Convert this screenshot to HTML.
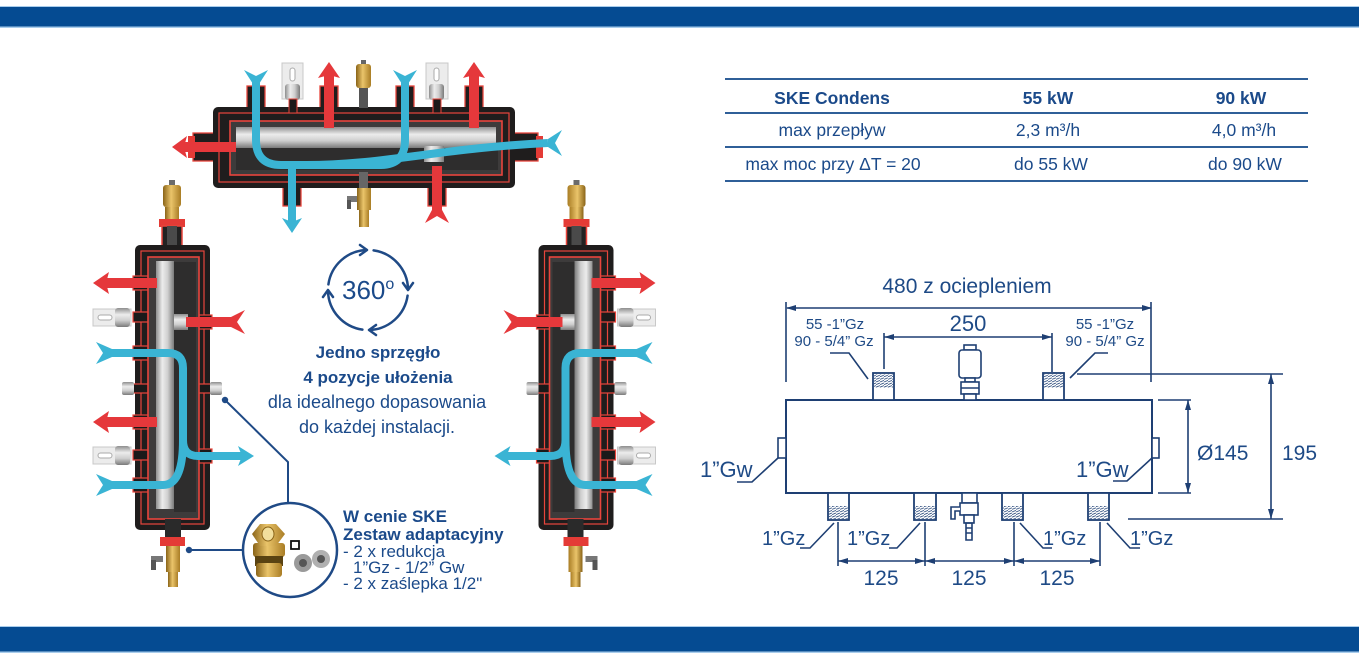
<!DOCTYPE html>
<html><head><meta charset="utf-8"><style>
html,body{margin:0;padding:0;background:#fff;}
svg{display:block;}
text{font-family:"Liberation Sans","DejaVu Sans",sans-serif;}
</style></head><body>
<svg width="1359" height="668" viewBox="0 0 1359 668" xmlns="http://www.w3.org/2000/svg">
<defs>
 <linearGradient id="silH" x1="0" y1="0" x2="0" y2="1">
  <stop offset="0" stop-color="#8e8e8e"/><stop offset="0.35" stop-color="#ececec"/><stop offset="0.65" stop-color="#cfcfcf"/><stop offset="1" stop-color="#7a7a7a"/>
 </linearGradient>
 <linearGradient id="silV" x1="0" y1="0" x2="1" y2="0">
  <stop offset="0" stop-color="#8e8e8e"/><stop offset="0.35" stop-color="#ececec"/><stop offset="0.65" stop-color="#cfcfcf"/><stop offset="1" stop-color="#7a7a7a"/>
 </linearGradient>
 <linearGradient id="brass" x1="0" y1="0" x2="1" y2="0">
  <stop offset="0" stop-color="#8a6418"/><stop offset="0.45" stop-color="#eac46a"/><stop offset="1" stop-color="#a97d25"/>
 </linearGradient>
 <pattern id="th" width="4" height="2.6" patternUnits="userSpaceOnUse">
  <path d="M0,2.4 L4,0.8" stroke="#1e3f73" stroke-width="0.8"/>
 </pattern>
 <g id="vu">
  <rect x="169" y="180" width="6" height="6" fill="#6b6b6b"/>
  <rect x="163" y="185" width="18" height="22" rx="3" fill="url(#brass)"/>
  <rect x="165" y="207" width="14" height="12" fill="url(#brass)"/>
  <rect x="159" y="219" width="26" height="8" fill="#e43b36"/>
  <rect x="162" y="226" width="20" height="24" fill="#222" stroke="#e8453c" stroke-width="1.5"/>
  <rect x="167" y="226" width="10" height="40" fill="#4a4a4a"/>
  <rect x="135" y="245" width="75" height="285" rx="5" fill="#1f1d1d"/>
  <rect x="141" y="251" width="63" height="273" fill="none" stroke="#e8453c" stroke-width="1.2"/>
  <rect x="133" y="276" width="24" height="14" fill="#1a1a1a" stroke="#e8453c" stroke-width="1.2"/>
  <rect x="133" y="312" width="24" height="10" fill="#1a1a1a" stroke="#e8453c" stroke-width="1.2"/>
  <rect x="133" y="346" width="24" height="14" fill="#1a1a1a" stroke="#e8453c" stroke-width="1.2"/>
  <rect x="133" y="384" width="24" height="9" fill="#1a1a1a" stroke="#e8453c" stroke-width="1.2"/>
  <rect x="133" y="415" width="24" height="14" fill="#1a1a1a" stroke="#e8453c" stroke-width="1.2"/>
  <rect x="133" y="450" width="24" height="10" fill="#1a1a1a" stroke="#e8453c" stroke-width="1.2"/>
  <rect x="133" y="478" width="24" height="14" fill="#1a1a1a" stroke="#e8453c" stroke-width="1.2"/>
  <rect x="190" y="315" width="22" height="14" fill="#1a1a1a" stroke="#e8453c" stroke-width="1.2"/>
  <rect x="190" y="384" width="22" height="9" fill="#1a1a1a" stroke="#e8453c" stroke-width="1.2"/>
  <rect x="190" y="449" width="22" height="14" fill="#1a1a1a" stroke="#e8453c" stroke-width="1.2"/>
  <rect x="148" y="257" width="51" height="262" fill="#3d3b3b" stroke="#e8453c" stroke-width="1.6"/>
  <rect x="174" y="262" width="22" height="250" fill="#2e2d2d"/>
  <rect x="156" y="261" width="18" height="248" fill="url(#silV)"/>
  <rect x="174" y="314" width="14" height="16" fill="url(#silH)"/>
  <rect x="93" y="309" width="38" height="17" fill="#ececec" stroke="#c8c8c8"/>
  <rect x="98" y="315" width="14" height="5" rx="2.5" fill="#fff" stroke="#aaa"/>
  <rect x="115" y="308" width="15" height="19" rx="3" fill="url(#silH)"/>
  <rect x="93" y="447" width="38" height="17" fill="#ececec" stroke="#c8c8c8"/>
  <rect x="98" y="453" width="14" height="5" rx="2.5" fill="#fff" stroke="#aaa"/>
  <rect x="115" y="446" width="15" height="19" rx="3" fill="url(#silH)"/>
  <rect x="122" y="382" width="12" height="13" rx="2" fill="url(#silH)"/>
  <rect x="210" y="382" width="12" height="13" rx="2" fill="url(#silH)"/>
  <rect x="105" y="278" width="52" height="10" fill="#e5383b"/>
  <polygon points="109,272 93,283 109,294 106,283" fill="#e5383b"/>
  <rect x="105" y="417" width="52" height="10" fill="#e5383b"/>
  <polygon points="109,411 93,422 109,433 106,422" fill="#e5383b"/>
  <rect x="186" y="317" width="48" height="10" fill="#e5383b"/>
  <polygon points="245,310 229,318 229,326 245,334 237,322" fill="#e5383b"/>
  <path d="M108,353 H168 Q183,353 183,368 V440 Q183,456 198,456 H242" fill="none" stroke="#3ab4d4" stroke-width="8"/>
  <path d="M183,440 Q183,485 163,485 H108" fill="none" stroke="#3ab4d4" stroke-width="8"/>
  <polygon points="96,342 112,349 112,357 96,364 103,353" fill="#3ab4d4"/>
  <polygon points="96,474 112,481 112,489 96,496 103,485" fill="#3ab4d4"/>
  <polygon points="238,446 254,456 238,466 242,456" fill="#3ab4d4"/>
  <rect x="165" y="519" width="16" height="22" fill="#2a2a2a"/>
  <rect x="160" y="537" width="25" height="9" fill="#e43b36"/>
  <rect x="166" y="546" width="14" height="26" fill="url(#brass)"/>
  <rect x="151" y="556" width="12" height="6" fill="#777"/>
  <rect x="151" y="560" width="5" height="10" fill="#555"/>
  <rect x="168" y="572" width="10" height="15" fill="url(#brass)"/>
 </g>
</defs>

<rect width="1359" height="668" fill="#fff"/>

<rect x="0" y="6" width="1359" height="1.5" fill="#a9cdec"/>
<rect x="0" y="7" width="1359" height="20" fill="#054b92"/>
<rect x="0" y="26.5" width="1359" height="1.5" fill="#a9cdec"/>
<rect x="0" y="626" width="1359" height="1.5" fill="#a9cdec"/>
<rect x="0" y="627" width="1359" height="25" fill="#054b92"/>
<rect x="0" y="651.5" width="1359" height="1.5" fill="#a9cdec"/>

<g>
 <rect x="247" y="86" width="18" height="26" fill="#1f1d1d" stroke="#e8453c" stroke-width="1.3"/>
 <rect x="320" y="86" width="18" height="26" fill="#1f1d1d" stroke="#e8453c" stroke-width="1.3"/>
 <rect x="396" y="86" width="18" height="26" fill="#1f1d1d" stroke="#e8453c" stroke-width="1.3"/>
 <rect x="465" y="86" width="18" height="26" fill="#1f1d1d" stroke="#e8453c" stroke-width="1.3"/>
 <rect x="283" y="184" width="18" height="22" fill="#1f1d1d" stroke="#e8453c" stroke-width="1.3"/>
 <rect x="428" y="184" width="18" height="22" fill="#1f1d1d" stroke="#e8453c" stroke-width="1.3"/>
 <rect x="193" y="133" width="24" height="28" fill="#1f1d1d" stroke="#e8453c" stroke-width="1.3"/>
 <rect x="188" y="136" width="7" height="22" fill="#e43b36"/>
 <rect x="511" y="133" width="27" height="28" fill="#1f1d1d" stroke="#e8453c" stroke-width="1.3"/>
 <rect x="536" y="136" width="7" height="22" fill="#e43b36"/>
 <rect x="213" y="107" width="302" height="81" rx="5" fill="#1f1d1d"/>
 <rect x="219" y="113" width="290" height="69" fill="none" stroke="#e8453c" stroke-width="1.2"/>
 <rect x="230" y="121" width="272" height="54" fill="#3d3b3b" stroke="#e8453c" stroke-width="1.6"/>
 <rect x="236" y="148" width="262" height="22" fill="#2e2d2d"/>
 <rect x="236" y="127" width="260" height="21" fill="url(#silH)"/>
 <rect x="424" y="146" width="20" height="16" fill="url(#silV)"/>
 <rect x="282" y="63" width="21" height="36" fill="#ececec" stroke="#c8c8c8"/>
 <rect x="290" y="68" width="5" height="13" rx="2.5" fill="#fff" stroke="#aaa"/>
 <rect x="285" y="84" width="15" height="16" rx="3" fill="url(#silV)"/>
 <rect x="426" y="63" width="22" height="36" fill="#ececec" stroke="#c8c8c8"/>
 <rect x="434" y="68" width="5" height="13" rx="2.5" fill="#fff" stroke="#aaa"/>
 <rect x="429" y="84" width="15" height="16" rx="3" fill="url(#silV)"/>
 <rect x="289" y="99" width="8" height="14" fill="#1a1a1a" stroke="#e8453c" stroke-width="1"/>
 <rect x="433" y="99" width="8" height="14" fill="#1a1a1a" stroke="#e8453c" stroke-width="1"/>
 <rect x="361" y="60" width="5" height="5" fill="#666"/>
 <rect x="356" y="64" width="15" height="24" rx="3" fill="url(#brass)"/>
 <rect x="359" y="88" width="9" height="20" fill="#555"/>
 <rect x="359" y="172" width="9" height="16" fill="#666"/>
 <rect x="357" y="188" width="14" height="22" fill="url(#brass)"/>
 <rect x="347" y="196" width="10" height="6" fill="#777"/>
 <rect x="347" y="200" width="4" height="9" fill="#555"/>
 <rect x="359" y="210" width="10" height="17" fill="url(#brass)"/>
 <rect x="184" y="142" width="52" height="10" fill="#e5383b"/>
 <polygon points="187,136 172,147 187,158 184,147" fill="#e5383b"/>
 <rect x="324" y="74" width="10" height="54" fill="#e5383b"/>
 <polygon points="318,78 329,62 340,78 329,75" fill="#e5383b"/>
 <rect x="469" y="74" width="10" height="54" fill="#e5383b"/>
 <polygon points="463,78 474,62 485,78 474,75" fill="#e5383b"/>
 <rect x="432" y="166" width="10" height="46" fill="#e5383b"/>
 <polygon points="425,223 433,208 441,208 449,223 437,216" fill="#e5383b"/>
 <path d="M256,80 V140 Q256,165 281,165 H380 Q405,165 405,140 V80" fill="none" stroke="#3ab4d4" stroke-width="8"/>
 <path d="M292,165 V222" fill="none" stroke="#3ab4d4" stroke-width="8"/>
 <path d="M300,165 C380,166 440,148 548,143" fill="none" stroke="#3ab4d4" stroke-width="8"/>
 <polygon points="244,70 253,84 259,84 268,70 256,76" fill="#3ab4d4"/>
 <polygon points="393,70 402,84 408,84 417,70 405,76" fill="#3ab4d4"/>
 <polygon points="282,218 292,233 302,218 292,222" fill="#3ab4d4"/>
 <polygon points="562,130 548,139 548,147 562,156 555,143" fill="#3ab4d4"/>
</g>

<use href="#vu"/>
<g transform="translate(748.5,0) scale(-1,1)"><use href="#vu"/></g>

<g fill="none" stroke="#1f4a86" stroke-width="2.5" stroke-linecap="round" stroke-linejoin="round">
 <path d="M373.6,250.4 A40,40 0 0 1 408,288.6"/>
 <path d="M407.6,295.6 A40,40 0 0 1 369.4,330"/>
 <path d="M362.4,329.6 A40,40 0 0 1 328,291.4"/>
 <path d="M328.4,284.4 A40,40 0 0 1 366.6,250"/>
 <polyline points="403,283 408,290 413,283"/>
 <polyline points="376,325 369,330 376,335"/>
 <polyline points="323,297 328,290 333,297"/>
 <polyline points="360,245 367,250 360,255"/>
</g>
<text x="342" y="299" font-size="26" fill="#1b4a8a">360<tspan font-size="16" dy="-10">o</tspan></text>
<g fill="#1b4a8a" text-anchor="middle">
 <text x="378" y="358" font-size="17" font-weight="bold">Jedno sprzęgło</text>
 <text x="378" y="383" font-size="17" font-weight="bold">4 pozycje ułożenia</text>
 <text x="377" y="408" font-size="18">dla idealnego dopasowania</text>
 <text x="377" y="433" font-size="18">do każdej instalacji.</text>
</g>

<g stroke="#1f4a86" stroke-width="2" fill="none">
 <polyline points="225,400 288,462 288,503"/>
 <line x1="189" y1="550" x2="243" y2="550"/>
</g>
<circle cx="225" cy="400" r="3.2" fill="#1f4a86"/>
<circle cx="189" cy="550" r="3.2" fill="#1f4a86"/>
<circle cx="290" cy="550" r="47" fill="#fff" stroke="#1f4a86" stroke-width="2.5"/>
<rect x="253" y="543" width="32" height="14" rx="3" fill="url(#brass)"/>
<rect x="255" y="556" width="28" height="10" fill="#5a4312"/>
<rect x="256" y="563" width="26" height="14" rx="3" fill="url(#brass)"/>
<polygon points="260,524 276,524 285,534 276,546 260,546 252,534" fill="url(#brass)"/>
<ellipse cx="268" cy="534" rx="6" ry="7" fill="#f2df9c" stroke="#8a6418"/>
<circle cx="303" cy="563" r="9" fill="#9a9a9a"/>
<circle cx="303" cy="563" r="4" fill="#555"/>
<circle cx="321" cy="559" r="9" fill="#b0b0b0"/>
<circle cx="321" cy="559" r="4" fill="#555"/>
<rect x="291" y="541" width="8" height="8" fill="#fff" stroke="#111" stroke-width="1.8"/>
<g fill="#1b4a8a">
 <text x="343" y="522" font-size="17" font-weight="bold">W cenie SKE</text>
 <text x="343" y="540" font-size="17" font-weight="bold">Zestaw adaptacyjny</text>
 <text x="343" y="557" font-size="17">- 2 x redukcja</text>
 <text x="353" y="573" font-size="17">1”Gz - 1/2” Gw</text>
 <text x="343" y="589" font-size="17">- 2 x zaślepka 1/2"</text>
</g>

<g stroke="#2f5f98" stroke-width="2">
 <line x1="725" y1="79" x2="1308" y2="79"/>
 <line x1="725" y1="113" x2="1308" y2="113"/>
 <line x1="725" y1="147" x2="1308" y2="147"/>
 <line x1="725" y1="181" x2="1308" y2="181"/>
</g>
<g fill="#1b4a8a" text-anchor="middle" font-size="17.5">
 <text x="832" y="104" font-weight="bold" font-size="17.5">SKE Condens</text>
 <text x="1048" y="104" font-weight="bold">55 kW</text>
 <text x="1241" y="104" font-weight="bold">90 kW</text>
 <text x="832" y="136">max przepływ</text>
 <text x="1048" y="136">2,3 m³/h</text>
 <text x="1244" y="136">4,0 m³/h</text>
 <text x="833" y="170">max moc przy ΔT = 20</text>
 <text x="1051" y="170">do 55 kW</text>
 <text x="1245" y="170">do 90 kW</text>
</g>

<g stroke="#1e3f73" stroke-width="1.6" fill="none">
 <line x1="786" y1="302" x2="786" y2="382"/>
 <line x1="1151" y1="302" x2="1151" y2="382"/>
 <line x1="787" y1="308" x2="1151" y2="308"/>
 <line x1="884" y1="333" x2="884" y2="369"/>
 <line x1="1052" y1="333" x2="1052" y2="372"/>
 <line x1="884" y1="337" x2="1052" y2="337"/>
 <rect x="786" y="400" width="366" height="93" fill="#fff" stroke-width="2"/>
 <rect x="778" y="438" width="8" height="20" fill="#fff"/>
 <rect x="1152" y="438" width="7" height="20" fill="#fff"/>
 <rect x="873" y="373" width="21" height="27" fill="#fff" stroke-width="1.8"/>
 <rect x="1043" y="373" width="21" height="27" fill="#fff" stroke-width="1.8"/>
 <rect x="828" y="493" width="21" height="27" fill="#fff" stroke-width="1.8"/>
 <rect x="914" y="493" width="22" height="27" fill="#fff" stroke-width="1.8"/>
 <rect x="1002" y="493" width="21" height="27" fill="#fff" stroke-width="1.8"/>
 <rect x="1088" y="493" width="21" height="27" fill="#fff" stroke-width="1.8"/>
 <rect x="964" y="345" width="12" height="5" fill="#fff"/>
 <rect x="959" y="350" width="22" height="28" rx="3" fill="#fff"/>
 <rect x="965" y="378" width="10" height="4" fill="#fff"/>
 <rect x="961" y="382" width="18" height="12" fill="#fff"/>
 <line x1="961" y1="388" x2="979" y2="388"/>
 <rect x="964" y="394" width="12" height="6" fill="#fff"/>
 <rect x="962" y="493" width="15" height="10" fill="#fff"/>
 <rect x="960" y="503" width="18" height="12" fill="#fff"/>
 <path d="M960,507 H951 V519 H955 V511 H960" fill="#fff"/>
 <rect x="964" y="515" width="10" height="8" fill="#fff"/>
 <path d="M966,523 H972 V540 H966 Z M966,528 H972 M966,533 H972"/>
 <polyline points="830,353 849,353 868,379"/>
 <polyline points="1070,378 1095,353 1108,353"/>
 <polyline points="778,458 752,482 737,482"/>
 <polyline points="1152,458 1127,481 1113,481"/>
 <polyline points="834,523 810,548 800,548"/>
 <polyline points="920,523 897,548 889,548"/>
 <polyline points="1020,523 1043,548 1052,548"/>
 <polyline points="1107,523 1130,548 1140,548"/>
 <line x1="838" y1="522" x2="838" y2="566"/>
 <line x1="925" y1="522" x2="925" y2="566"/>
 <line x1="1014" y1="522" x2="1014" y2="566"/>
 <line x1="1100" y1="522" x2="1100" y2="566"/>
 <line x1="838" y1="561" x2="1100" y2="561"/>
 <line x1="1077" y1="374" x2="1283" y2="374"/>
 <line x1="1128" y1="519" x2="1283" y2="519"/>
 <line x1="1271" y1="374" x2="1271" y2="519"/>
 <line x1="1158" y1="400" x2="1191" y2="400"/>
 <line x1="1158" y1="493" x2="1191" y2="493"/>
 <line x1="1188" y1="400" x2="1188" y2="493"/>
</g>
<rect x="874" y="374" width="19" height="14" fill="url(#th)"/>
<rect x="1044" y="374" width="19" height="14" fill="url(#th)"/>
<rect x="829" y="506" width="19" height="13" fill="url(#th)"/>
<rect x="915" y="506" width="20" height="13" fill="url(#th)"/>
<rect x="1003" y="506" width="19" height="13" fill="url(#th)"/>
<rect x="1089" y="506" width="19" height="13" fill="url(#th)"/>
<g fill="#1e3f73">
 <polygon points="796,305 786,308 796,311"/>
 <polygon points="1142,305 1152,308 1142,311"/>
 <polygon points="894,334 884,337 894,340"/>
 <polygon points="1042,334 1052,337 1042,340"/>
 <polygon points="848,558 838,561 848,564"/>
 <polygon points="915,558 925,561 915,564"/>
 <polygon points="935,558 925,561 935,564"/>
 <polygon points="1004,558 1014,561 1004,564"/>
 <polygon points="1024,558 1014,561 1024,564"/>
 <polygon points="1090,558 1100,561 1090,564"/>
 <polygon points="1268,384 1271,374 1274,384"/>
 <polygon points="1268,509 1271,519 1274,509"/>
 <polygon points="1185,410 1188,400 1191,410"/>
 <polygon points="1185,483 1188,493 1191,483"/>
</g>
<g fill="#1e4a86">
 <text x="967" y="293" font-size="21" text-anchor="middle">480 z ociepleniem</text>
 <text x="968" y="331" font-size="22" text-anchor="middle">250</text>
 <text x="835" y="329" font-size="15" text-anchor="middle">55 -1”Gz</text>
 <text x="834" y="346" font-size="15" text-anchor="middle">90 - 5/4” Gz</text>
 <text x="1105" y="329" font-size="15" text-anchor="middle">55 -1”Gz</text>
 <text x="1105" y="346" font-size="15" text-anchor="middle">90 - 5/4” Gz</text>
 <text x="700" y="477" font-size="22">1”Gw</text>
 <text x="1076" y="477" font-size="22">1”Gw</text>
 <text x="1197" y="460" font-size="21">Ø145</text>
 <text x="1282" y="460" font-size="21">195</text>
 <text x="762" y="545" font-size="20">1”Gz</text>
 <text x="847" y="545" font-size="20">1”Gz</text>
 <text x="1043" y="545" font-size="20">1”Gz</text>
 <text x="1130" y="545" font-size="20">1”Gz</text>
 <text x="881" y="585" font-size="21" text-anchor="middle">125</text>
 <text x="969" y="585" font-size="21" text-anchor="middle">125</text>
 <text x="1057" y="585" font-size="21" text-anchor="middle">125</text>
</g>
</svg>
</body></html>
